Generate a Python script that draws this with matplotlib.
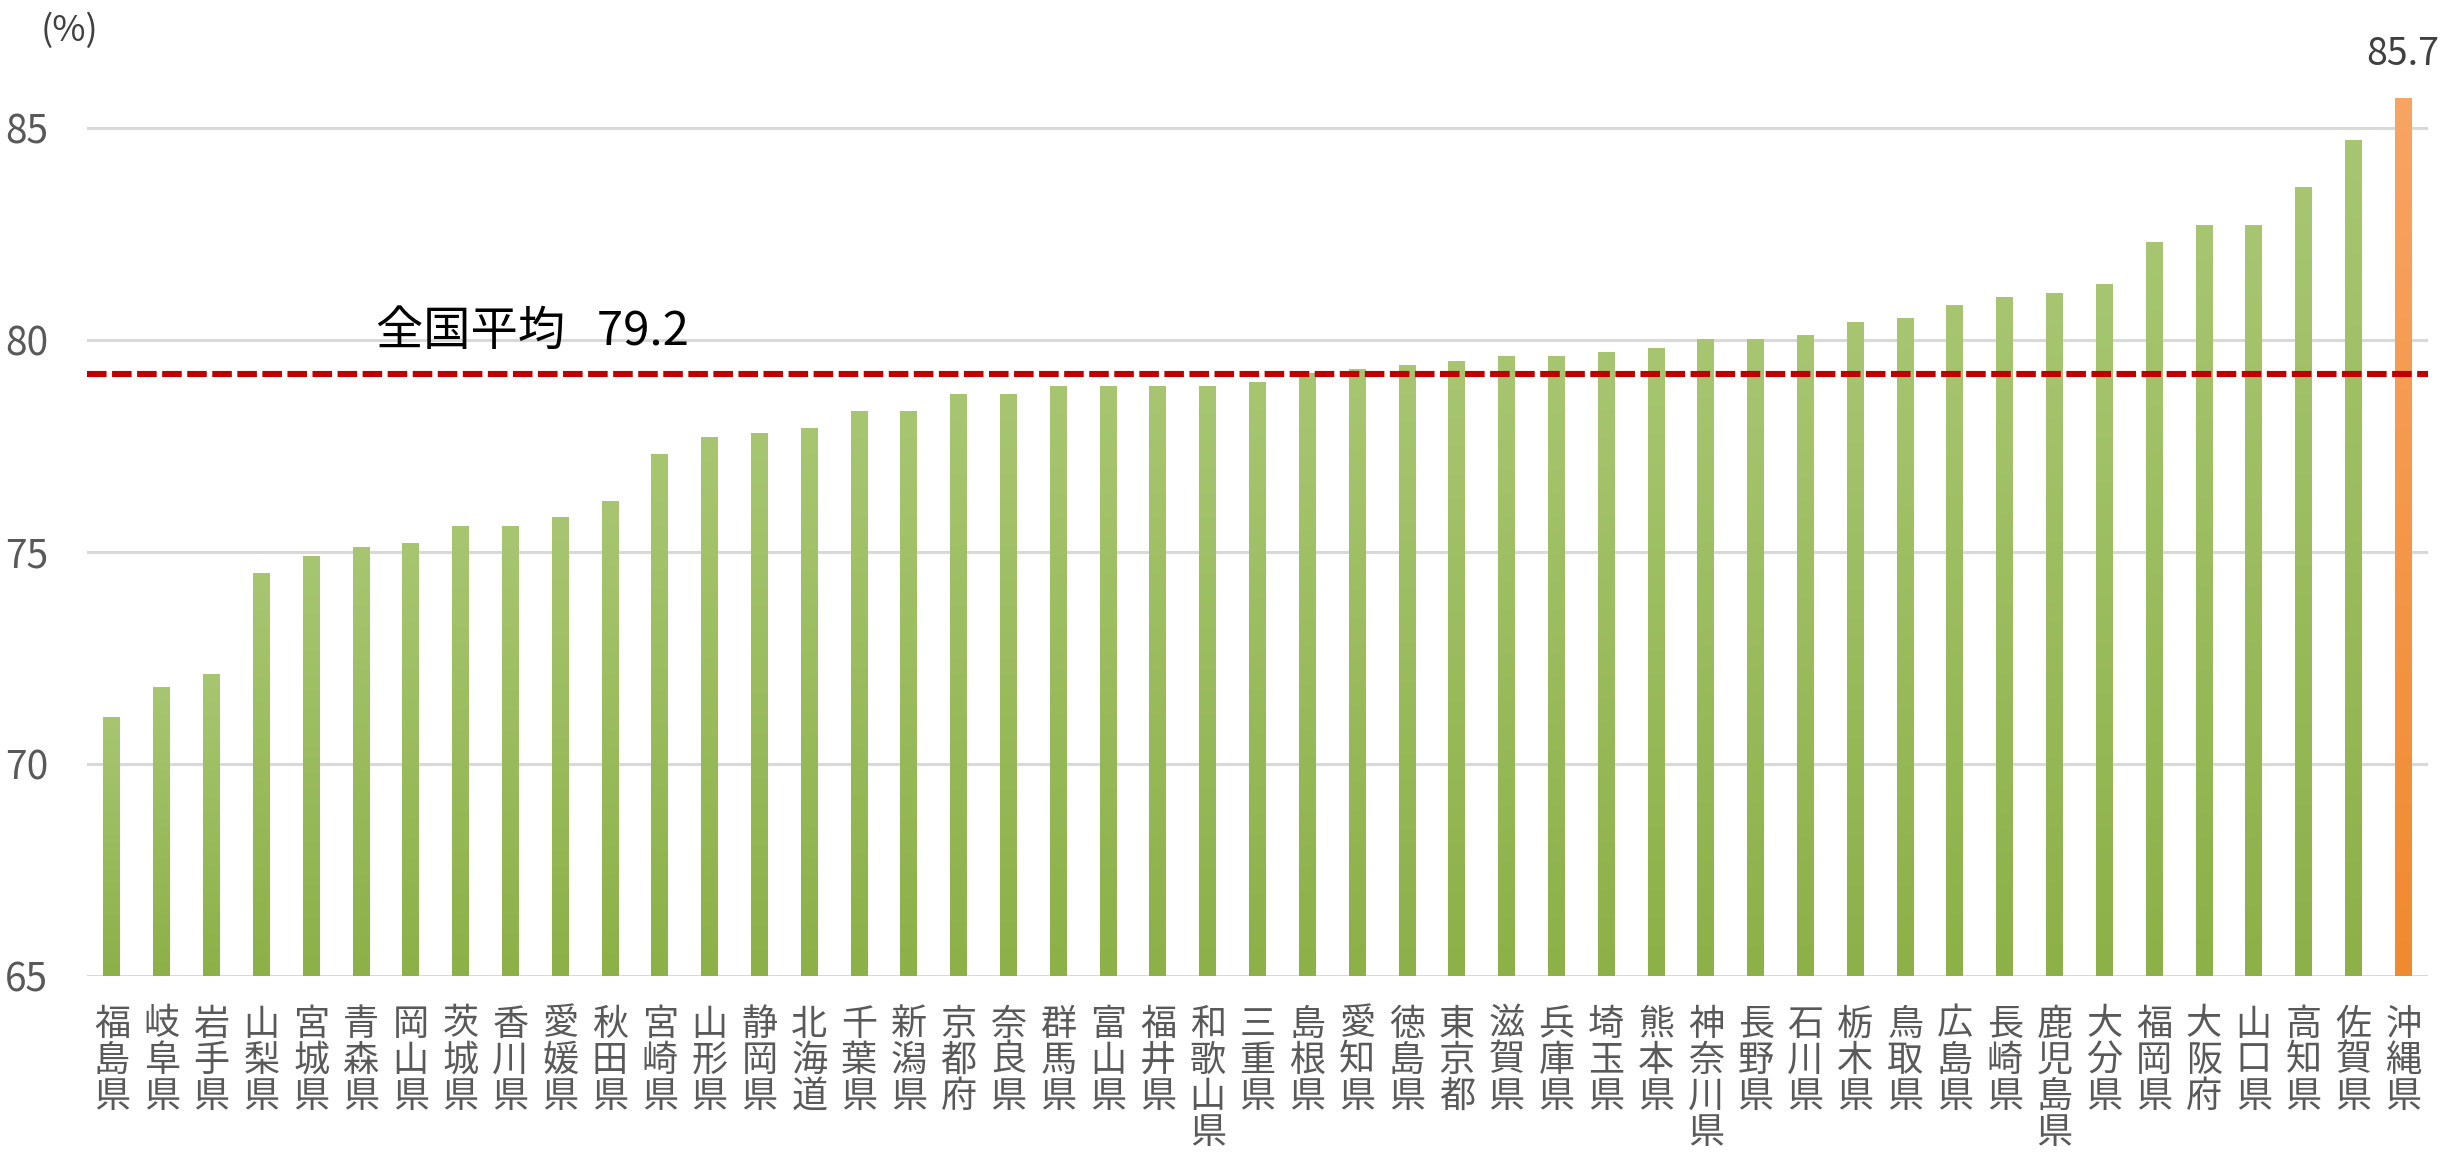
import numpy as np
import matplotlib
matplotlib.use("Agg")
import matplotlib.pyplot as plt
from matplotlib.colors import LinearSegmentedColormap

plt.rcParams['font.family'] = ['Noto Sans CJK JP', 'DejaVu Sans']

# Prefectures, sorted ascending as in the chart
prefectures = [
    "福島県", "岐阜県", "岩手県", "山梨県", "宮城県", "青森県", "岡山県",
    "茨城県", "香川県", "愛媛県", "秋田県", "宮崎県", "山形県", "静岡県",
    "北海道", "千葉県", "新潟県", "京都府", "奈良県", "群馬県", "富山県",
    "福井県", "和歌山県", "三重県", "島根県", "愛知県", "徳島県", "東京都",
    "滋賀県", "兵庫県", "埼玉県", "熊本県", "神奈川県", "長野県", "石川県",
    "栃木県", "鳥取県", "広島県", "長崎県", "鹿児島県", "大分県", "福岡県",
    "大阪府", "山口県", "高知県", "佐賀県", "沖縄県",
]
values = [
    71.1, 71.8, 72.1, 74.5, 74.9, 75.1, 75.2,
    75.6, 75.6, 75.8, 76.2, 77.3, 77.7, 77.8,
    77.9, 78.3, 78.3, 78.7, 78.7, 78.9, 78.9,
    78.9, 78.9, 79.0, 79.2, 79.3, 79.4, 79.5,
    79.6, 79.6, 79.7, 79.8, 80.0, 80.0, 80.1,
    80.4, 80.5, 80.8, 81.0, 81.1, 81.3, 82.3,
    82.7, 82.7, 83.6, 84.7, 85.7,
]
highlight = "沖縄県"
national_avg = 79.2
y_ticks = [65, 70, 75, 80, 85]

green_cmap = LinearSegmentedColormap.from_list("g", ["#8DB048", "#A8C672"])
orange_cmap = LinearSegmentedColormap.from_list("o", ["#F08A30", "#F8A463"])

fig = plt.figure(figsize=(24.45, 11.52), dpi=100)
ax = fig.add_axes([0.0356, 0.1528, 0.9575, 0.8099])

x = np.arange(len(prefectures))
bars = ax.bar(x, np.array(values) - 65, bottom=65, width=0.34,
              facecolor="none", edgecolor="none", zorder=3)

# vertical gradient fill for each bar
grad = np.linspace(0, 1, 256).reshape(-1, 1)
for name, bar in zip(prefectures, bars):
    x0, y0 = bar.get_x(), bar.get_y()
    x1, y1 = x0 + bar.get_width(), y0 + bar.get_height()
    cmap = orange_cmap if name == highlight else green_cmap
    ax.imshow(grad, extent=[x0, x1, y0, y1], origin="lower", cmap=cmap,
              aspect="auto", zorder=3)
    if name == highlight:
        ax.annotate(f"{bar.get_height() + 65:.1f}", (x0 + bar.get_width() / 2, y1),
                    xytext=(0, 17), textcoords="offset points", ha="center",
                    va="bottom", fontsize=27, color="#404040")

ax.axhline(national_avg, color="#C00000", lw=4.4, dashes=(3.2, 0.9), zorder=4)
ax.text(5.3, 79.62, f"全国平均   {national_avg}", fontsize=34, color="black",
        ha="left", va="bottom", zorder=5)

ax.set_xlim(-0.5, len(prefectures) - 0.5)
ax.set_ylim(65, 87)
ax.set_yticks(y_ticks)
ax.set_yticklabels([str(t) for t in y_ticks], fontsize=28, color="#595959")
ax.set_xticks(x)
ax.set_xticklabels(["\n".join(p) for p in prefectures], fontsize=26,
                   color="#595959", linespacing=1.0, va="top")
ax.tick_params(axis="both", length=0)
ax.tick_params(axis="y", pad=28)
ax.tick_params(axis="x", pad=22)
ax.grid(axis="y", color="#D9D9D9", lw=2.2, zorder=0)
for s in ax.spines.values():
    s.set_visible(False)

fig.text(0.0286, 0.973, "(%)", fontsize=26, color="#404040",
         ha="center", va="center")

fig.savefig("out.png", dpi=100, facecolor="white")
